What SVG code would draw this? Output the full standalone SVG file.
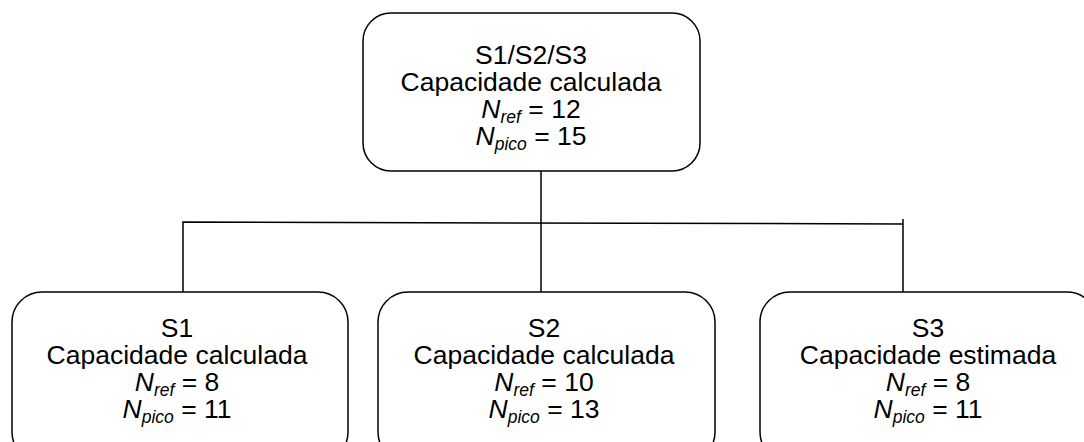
<svg xmlns="http://www.w3.org/2000/svg" width="1084" height="442" viewBox="0 0 1084 442">
  <style>
    .box { fill: #ffffff; stroke: #000000; stroke-width: 1.5; }
    .link { fill: none; stroke: #000000; stroke-width: 1.5; }
    text { font-family: "Liberation Sans", Arial, sans-serif; font-size: 26.5px; fill: #000000; text-anchor: middle; }
    .it { font-style: italic; }
    .sub { font-style: italic; font-size: 17.5px; }
  </style>
  <rect width="1084" height="442" fill="#ffffff"/>

  <!-- tree connectors -->
  <g id="connectors">
    <path class="link" d="M541 171 V292"/>
    <path class="link" d="M183 292 V222 L903 224"/>
    <path class="link" d="M903 219 V292"/>
  </g>

  <!-- root: combined S1/S2/S3 -->
  <g id="node-root">
    <rect class="box" x="363" y="13" width="337" height="158" rx="28" ry="28"/>
    <text x="531" y="64">S1/S2/S3</text>
    <text x="531" y="91">Capacidade calculada</text>
    <text x="531" y="118"><tspan class="it">N</tspan><tspan class="sub" dy="5">ref</tspan><tspan dy="-5"> = 12</tspan></text>
    <text x="531" y="145"><tspan class="it">N</tspan><tspan class="sub" dy="5">pico</tspan><tspan dy="-5"> = 15</tspan></text>
  </g>

  <!-- S1 -->
  <g id="node-s1">
    <rect class="box" x="12" y="292" width="336" height="170" rx="30" ry="30"/>
    <text x="177" y="337">S1</text>
    <text x="177" y="364">Capacidade calculada</text>
    <text x="177" y="391"><tspan class="it">N</tspan><tspan class="sub" dy="5">ref</tspan><tspan dy="-5"> = 8</tspan></text>
    <text x="177" y="418"><tspan class="it">N</tspan><tspan class="sub" dy="5">pico</tspan><tspan dy="-5"> = 11</tspan></text>
  </g>

  <!-- S2 -->
  <g id="node-s2">
    <rect class="box" x="378" y="292" width="337" height="170" rx="30" ry="30"/>
    <text x="544" y="337">S2</text>
    <text x="544" y="364">Capacidade calculada</text>
    <text x="544" y="391"><tspan class="it">N</tspan><tspan class="sub" dy="5">ref</tspan><tspan dy="-5"> = 10</tspan></text>
    <text x="544" y="418"><tspan class="it">N</tspan><tspan class="sub" dy="5">pico</tspan><tspan dy="-5"> = 13</tspan></text>
  </g>

  <!-- S3 -->
  <g id="node-s3">
    <rect class="box" x="760" y="292" width="337" height="170" rx="30" ry="30"/>
    <text x="928" y="337">S3</text>
    <text x="928" y="364">Capacidade estimada</text>
    <text x="928" y="391"><tspan class="it">N</tspan><tspan class="sub" dy="5">ref</tspan><tspan dy="-5"> = 8</tspan></text>
    <text x="928" y="418"><tspan class="it">N</tspan><tspan class="sub" dy="5">pico</tspan><tspan dy="-5"> = 11</tspan></text>
  </g>
</svg>
